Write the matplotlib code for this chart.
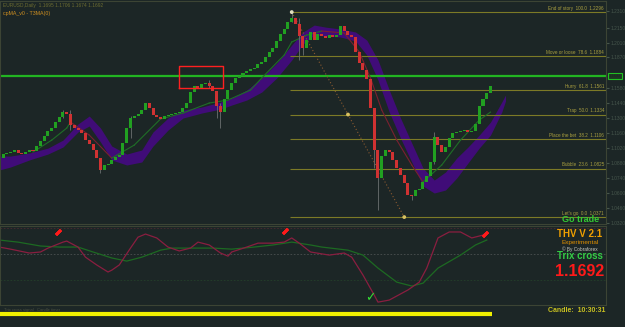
import numpy as np
import matplotlib
matplotlib.use("Agg")
import matplotlib.pyplot as plt

plt.rcParams['font.family'] = ['Liberation Sans', 'DejaVu Sans']

# ---- price data (daily candles, open = previous close) ----
first_open = 1.0925
closes = [
    1.0963, 1.0972, 1.0982, 1.1001, 1.0972, 1.0963, 1.0982, 1.1001, 1.0991, 1.1038,
    1.1085, 1.1132, 1.1179, 1.1207, 1.1263, 1.1310, 1.1357, 1.1339, 1.1235, 1.1207,
    1.1188, 1.1160, 1.1094, 1.1057, 1.1001, 1.0925, 1.0813, 1.0860, 1.0869, 1.0907,
    1.0935, 1.0954, 1.1066, 1.1207, 1.1301, 1.1320, 1.1339, 1.1376, 1.1442, 1.1395,
    1.1329, 1.1310, 1.1292, 1.1320, 1.1329, 1.1339, 1.1348, 1.1357, 1.1395, 1.1442,
    1.1545, 1.1601, 1.1583, 1.1620, 1.1630, 1.1601, 1.1554, 1.1414, 1.1357, 1.1479,
    1.1564, 1.1630, 1.1677, 1.1695, 1.1724, 1.1742, 1.1761, 1.1770, 1.1808, 1.1827,
    1.1874, 1.1921, 1.1958, 1.2024, 1.2090, 1.2137, 1.2202, 1.2240, 1.2184, 1.2071,
    1.1958, 1.2033, 1.2109, 1.2033, 1.2090, 1.2071, 1.2052, 1.2080, 1.2062, 1.2080,
    1.2165, 1.2118, 1.2080, 1.2062, 1.1921, 1.1817, 1.1752, 1.1667, 1.1395, 1.1001,
    1.0738, 1.0944, 1.1001, 1.0982, 1.0907, 1.0832, 1.0766, 1.0691, 1.0578, 1.0569,
    1.0625, 1.0634, 1.0700, 1.0756, 1.0888, 1.1123, 1.1047, 1.0982, 1.1029, 1.1113,
    1.1160, 1.1170, 1.1179, 1.1188, 1.1170, 1.1179, 1.1245, 1.1414, 1.1479, 1.1536,
    1.1601,
]
# visible wicks
wick_idx = [16, 18, 26, 34, 55, 57, 58, 77, 79, 80, 99, 100, 109, 115]
wick_hi = [1.1376, 1.1376, 1.0860, 1.1320, 1.1658, 1.1554, 1.1442, 1.2296, 1.2240, 1.2071, 1.1395, 1.1001, 1.0578, 1.1170]
wick_lo = [1.1301, 1.1188, 1.0785, 1.1113, 1.1583, 1.1301, 1.1207, 1.2202, 1.1846, 1.1893, 1.0832, 1.0437, 1.0531, 1.0869]

# purple band
cloud_idx = [-1, 2, 7, 12, 16, 20, 23, 26, 29, 33, 37, 40, 44, 48, 53, 58, 61, 65, 69, 73,
             77, 80, 83, 86, 90, 94, 97, 100, 103, 106, 109, 112, 115, 118, 121, 124, 127, 130, 133, 134]
cloud_hi = [1.0944, 1.0944, 1.0972, 1.1019, 1.1094, 1.1245, 1.1320, 1.1207, 1.1038, 1.0963,
            1.1001, 1.1170, 1.1301, 1.1376, 1.1404, 1.1451, 1.1489, 1.1564, 1.1677, 1.1817,
            1.1986, 1.2109, 1.2174, 1.2155, 1.2137, 1.2109, 1.2033, 1.1846, 1.1564, 1.1301,
            1.1066, 1.0832, 1.0719, 1.0794, 1.0926, 1.1029, 1.1141, 1.1263, 1.1451, 1.1517]
cloud_lo = [1.0813, 1.0841, 1.0907, 1.0963, 1.1029, 1.1170, 1.1226, 1.1076, 1.0907, 1.0860,
            1.0888, 1.1038, 1.1188, 1.1301, 1.1348, 1.1385, 1.1423, 1.1470, 1.1545, 1.1677,
            1.1846, 1.1996, 1.2080, 1.2071, 1.2062, 1.2024, 1.1893, 1.1658, 1.1357, 1.1113,
            1.0888, 1.0663, 1.0597, 1.0625, 1.0738, 1.0879, 1.1019, 1.1141, 1.1357, 1.1461]

# moving average line
ma_idx = [8, 13, 17, 18, 23, 29, 35, 42, 48, 55, 60, 66, 69, 75, 77, 81, 85, 91, 95, 98,
          101, 105, 109, 112, 117, 122, 127, 130]
ma_val = [1.0982, 1.1094, 1.1207, 1.1263, 1.1141, 1.0925, 1.1047, 1.1292, 1.1348, 1.1442,
          1.1470, 1.1564, 1.1677, 1.1893, 1.2015, 1.2080, 1.2118, 1.2099, 1.1921, 1.1677,
          1.1376, 1.1094, 1.0860, 1.0700, 1.0860, 1.1094, 1.1282, 1.1357]

# fibonacci levels
fib_pct = [100.0, 78.6, 61.8, 50.0, 38.2, 23.6, 0.0]
fib_price = [1.2296, 1.1884, 1.1561, 1.1334, 1.1106, 1.0825, 1.0371]
fib_name = ["End of story", "Move or loose", "Hurry", "Trap", "Place the bet", "Bubble", "Let's go"]
fib_start = 76.6
zig_idx = [77, 92, 107]
zig_price = [1.2296, 1.1334, 1.0371]
current_price = 1.1692
box_idx = [47, 58.7]
box_price = [1.1583, 1.1789]
axis_ticks = [1.2310, 1.2150, 1.2010, 1.1870, 1.1580, 1.1440, 1.1300, 1.1160,
              1.1020, 1.0880, 1.0740, 1.0600, 1.0460, 1.0320]

# trix sub-window
trix_idx = [-1, 2, 7, 10, 12, 16, 17, 20, 22, 25, 28, 29, 31, 34, 36, 38, 41, 44, 47, 50,
            52, 55, 58, 60, 61, 65, 68, 72, 75, 77, 79, 82, 87, 91, 93, 96, 99, 100, 103,
            108, 111, 113, 116, 119, 122, 125, 128, 129]
trix_val = [0.27, 0.19, 0.04, 0.08, 0.23, 0.46, 0.50, 0.27, -0.12, -0.42, -0.69, -0.62,
            -0.42, 0.23, 0.65, 0.77, 0.62, 0.27, 0.12, 0.23, 0.46, 0.35, 0.04, -0.08, 0.08,
            0.27, 0.42, 0.42, 0.46, 0.62, 0.42, 0.08, -0.04, 0.04, -0.12, -0.81, -1.58,
            -1.85, -1.77, -1.38, -1.08, -0.54, 0.62, 0.85, 0.85, 0.62, 0.73, 0.85]
sig_idx = [-1, 4, 10, 15, 20, 24, 29, 33, 37, 42, 45, 51, 56, 61, 67, 72, 77, 82, 85, 92,
           96, 100, 105, 109, 112, 116, 122, 126, 129]
sig_val = [0.54, 0.46, 0.31, 0.27, 0.27, 0.08, -0.15, -0.27, -0.12, 0.15, 0.23, 0.23, 0.23,
           0.19, 0.27, 0.35, 0.46, 0.35, 0.27, 0.15, -0.04, -0.54, -1.08, -1.23, -1.12,
           -0.54, -0.04, 0.35, 0.54]
up_arrow_idx = [14.7, 75.2, 128.5]
up_arrow_val = [0.85, 0.88, 0.77]
check_idx = [98]
check_val = [-1.69]

bg = '#1c2626'
W, H = 625, 327


def fx(x):
    return x / W


def fy(y):
    return 1 - y / H


fig = plt.figure(figsize=(6.25, 3.27), dpi=100, facecolor=bg)

# ---- main chart ----
ax = fig.add_axes([0, 103 / H, 606 / W, 223 / H])
ax.set_facecolor(bg)
ax.set_xlim(-0.8, 160.8)
ax.set_ylim(1.0306, 1.2400)
for s in ax.spines.values():
    s.set_color('#3c4434')
    s.set_linewidth(0.8)
ax.set_xticks([])
ax.yaxis.tick_right()
ax.set_yticks(axis_ticks)
ax.set_yticklabels(['%.4f' % t for t in axis_ticks])
ax.tick_params(axis='y', colors='#46564c', labelsize=3.5, length=2, pad=1)

ax.fill_between(cloud_idx, cloud_lo, cloud_hi, color='#400c78', lw=0, zorder=1)

ax.hlines(fib_price, fib_start, 160.8, color='#7c7a26', lw=0.8, zorder=2)
for pct, p, name in zip(fib_pct, fib_price, fib_name):
    ax.text(160.3, p + 0.0012, '%s  %.1f  %.4f' % (name, pct, p), fontsize=3.3,
            color='#aaa040', ha='right', va='bottom', zorder=3)

ax.axhline(current_price, color='#22b422', lw=1.6, zorder=2)
ax.plot(zig_idx, zig_price, ls=(0, (1, 2)), color='#8a5a30', lw=0.8, zorder=2)
ax.scatter(zig_idx, zig_price, s=3, color=['#e0e0c0', '#d8c060', '#d8c060'], zorder=6)

ma_idx_a = np.array(ma_idx)
ma_val_a = np.array(ma_val)
for k in range(len(ma_idx) - 1):
    c = '#1f6e26' if ma_val_a[k + 1] >= ma_val_a[k] else '#7a2030'
    ax.plot(ma_idx_a[k:k + 2], ma_val_a[k:k + 2], color=c, lw=0.8, zorder=3)

opens = [first_open] + closes[:-1]
idx = np.arange(len(closes))
o = np.array(opens)
c = np.array(closes)
ax.vlines(wick_idx, wick_lo, wick_hi, color='#6a7070', lw=0.6, zorder=4)
colors = np.where(c >= o, '#21a021', '#d03232')
ax.bar(idx, np.maximum(np.abs(c - o), 0.0006), bottom=np.minimum(o, c), width=0.8,
       color=colors, lw=0, zorder=5)

ax.plot([box_idx[0], box_idx[1], box_idx[1], box_idx[0], box_idx[0]],
        [box_price[0], box_price[0], box_price[1], box_price[1], box_price[0]],
        color='#ff2020', lw=1.0, zorder=6)

# ---- trix sub window ----
sub = fig.add_axes([0, 22 / H, 606 / W, 79 / H])
sub.set_facecolor(bg)
sub.set_xlim(-0.8, 160.8)
sub.set_ylim(-1.96, 1.08)
sub.set_xticks([])
sub.set_yticks([])
for s in sub.spines.values():
    s.set_color('#3c4434')
    s.set_linewidth(0.8)
sub.axhline(1.0, color='#4a2a30', lw=0.6, ls=(0, (2, 2)))
sub.axhline(0.0, color='#4a5050', lw=0.6, ls=(0, (2, 2)))
sub.axhline(-1.0, color='#24402a', lw=0.6, ls=(0, (2, 2)))
sub.plot(sig_idx, sig_val, color='#1c6a22', lw=0.9)
sub.plot(trix_idx, trix_val, color='#8a1e40', lw=0.9)
sub.plot(up_arrow_idx, up_arrow_val, ls='none', marker=(2, 2, -45), ms=5, mew=2,
         color='#ff1a1a')
for i, v in zip(check_idx, check_val):
    sub.text(i, v, '\u2713', color='#33dd33', fontsize=9, fontweight='bold',
             ha='center', va='center', family='DejaVu Sans')

# ---- bottom strip ----
strip = fig.add_axes([0, 0, 606 / W, 22 / H])
strip.set_facecolor(bg)
strip.set_xlim(-0.8, 160.8)
strip.set_ylim(0, 1)
strip.axis('off')
strip.axhline(1.0, color='#3c4434', lw=1.2)
strip.hlines(0.59, -0.8, len(closes) - 0.5, color='#f0f000', lw=3)
strip.text(0.2, 0.78, 'Trix cross signal   Candle timer', fontsize=3, color='#4a5040',
           va='center')

# ---- texts ----
fig.text(fx(3), fy(5), 'EURUSD,Daily  1.1695 1.1706 1.1674 1.1692', fontsize=3.5,
         color='#6c6c30', va='center')
fig.text(fx(3), fy(14), 'cpMA_v0 - T3MA(0)', fontsize=3.8, color='#d09020', va='center')

ax.annotate('%.4f' % current_price, xy=(1.0, current_price), xycoords=('axes fraction', 'data'),
            xytext=(2, 0), textcoords='offset points', fontsize=3, color='#1c2626',
            va='center', ha='left',
            bbox=dict(boxstyle='square,pad=0.25', fc='#1c3a20', ec='#22c022', lw=0.8))

fig.text(fx(581), fy(220), 'Go trade', fontsize=6.5, fontweight='bold', color='#33cc33',
         ha='center', va='center')
fig.text(fx(580), fy(234), 'THV V 2.1', fontsize=7, fontweight='bold', color='#f0a000',
         ha='center', va='center')
fig.text(fx(580), fy(242.5), 'Experimental', fontsize=4.6, color='#e09000',
         ha='center', va='center')
fig.text(fx(580), fy(249), '\u00a9 By Cobraforex', fontsize=3.4, color='#c8c8c0',
         ha='center', va='center')
fig.text(fx(580), fy(256), 'Trix cross', fontsize=7, fontweight='bold', color='#33cc44',
         ha='center', va='center')
fig.text(fx(580), fy(272), '%.4f' % current_price, fontsize=11.5, fontweight='bold',
         color='#ff1a1a', ha='center', va='center')
fig.text(fx(577), fy(310), 'Candle:  10:30:31', fontsize=5, fontweight='bold',
         color='#c8c020', ha='center', va='center')

fig.savefig('out.png', dpi=100, facecolor=bg)
